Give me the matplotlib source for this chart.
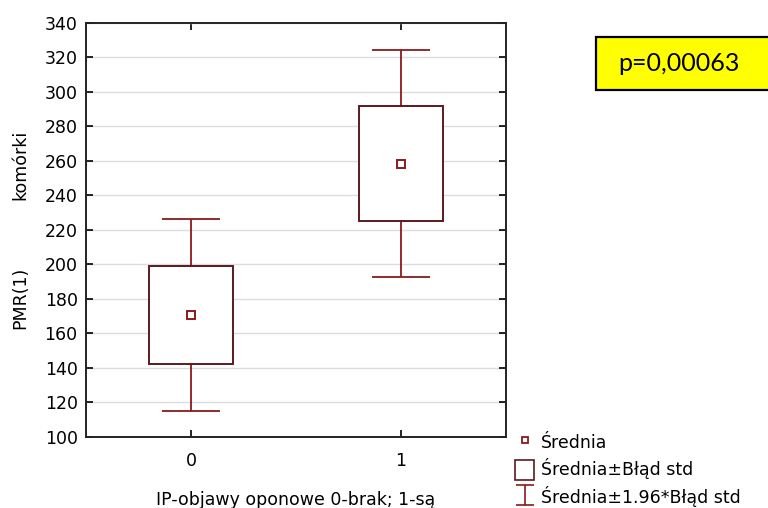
import matplotlib
matplotlib.use('Agg')
from matplotlib import pyplot as plt
from matplotlib.patches import Rectangle
from matplotlib.lines import Line2D
from matplotlib.path import Path

plt.rcParams['font.family'] = ['DejaVu Sans']

# Group means and standard errors
groups = [0, 1]
means = [170.7, 258.4]
std_err = [28.3, 33.5]
p_text = "p=0,00063"

dark_red = '#8b1a1a'
box_edge = '#5a1a1e'
fs = 12.5

fig = plt.figure(figsize=(7.68, 5.08), dpi=100)
ax = fig.add_axes([0.112, 0.140, 0.547, 0.815])

# Whiskers: mean +/- 1.96*SE
ci = [1.96 * s for s in std_err]
ax.errorbar(groups, means, yerr=ci, fmt='none', ecolor=dark_red,
            elinewidth=1.3, capsize=21, capthick=1.3, zorder=2)

# Boxes: mean +/- SE
lows = [m - s for m, s in zip(means, std_err)]
heights = [2 * s for s in std_err]
ax.bar(groups, heights, bottom=lows, width=0.4, facecolor='white',
       edgecolor=box_edge, linewidth=1.4, zorder=3)

# Mean markers
ax.plot(groups, means, ls='none', marker='s', ms=6, mfc='white',
        mec=dark_red, mew=1.4, zorder=4)

ax.set_xlim(-0.5, 1.5)
ax.set_ylim(100, 340)
ax.set_xticks(groups)
ax.set_yticks(range(100, 341, 20))
ax.yaxis.grid(True, color='#dcdcdc', linewidth=1.0, zorder=0)
ax.set_axisbelow(True)
ax.tick_params(direction='in', length=5, width=1.2, labelsize=fs,
               left=True, right=True, top=True, bottom=True)
ax.tick_params(axis='y', pad=6)
ax.tick_params(axis='x', pad=11)
for sp in ax.spines.values():
    sp.set_linewidth(1.4)
    sp.set_color('#222222')

ax.set_xlabel('IP-objawy oponowe 0-brak; 1-są', fontsize=fs, labelpad=15)
fig.text(0.027, 0.413, 'PMR(1)', rotation=90, fontsize=fs,
         ha='center', va='center')
fig.text(0.027, 0.675, 'komórki', rotation=90, fontsize=fs,
         ha='center', va='center')

# p-value box (runs off the right edge)
fig.patches.append(Rectangle((0.776, 0.823), 0.3, 0.104, transform=fig.transFigure,
                             facecolor='#ffff00', edgecolor='black',
                             linewidth=1.6, clip_on=False))
fig.text(0.805, 0.875, p_text, fontsize=18, family=['Lato', 'DejaVu Sans'],
         ha='left', va='center')

# Legend
ibar = Path([(-0.9, -1), (0.9, -1), (0, -1), (0, 1), (-0.9, 1), (0.9, 1)],
            [Path.MOVETO, Path.LINETO, Path.MOVETO, Path.LINETO,
             Path.MOVETO, Path.LINETO])
handles = [
    Line2D([], [], ls='none', marker='s', ms=5, mfc='white', mec=dark_red, mew=1.3),
    Rectangle((0, 0), 1, 1, facecolor='white', edgecolor=box_edge, linewidth=1.2),
    Line2D([], [], ls='none', marker=ibar, ms=14.5, mfc='none', mec=dark_red, mew=1.2),
]
labels = ['Średnia', 'Średnia±Błąd std', 'Średnia±1.96*Błąd std']
fig.legend(handles, labels, loc='upper left', bbox_to_anchor=(0.655, 0.174),
           frameon=False, fontsize=fs, handlelength=1.1, handleheight=1.4,
           handletextpad=0.4, labelspacing=0.38, borderpad=0.2)

fig.savefig('out.png', dpi=100)
